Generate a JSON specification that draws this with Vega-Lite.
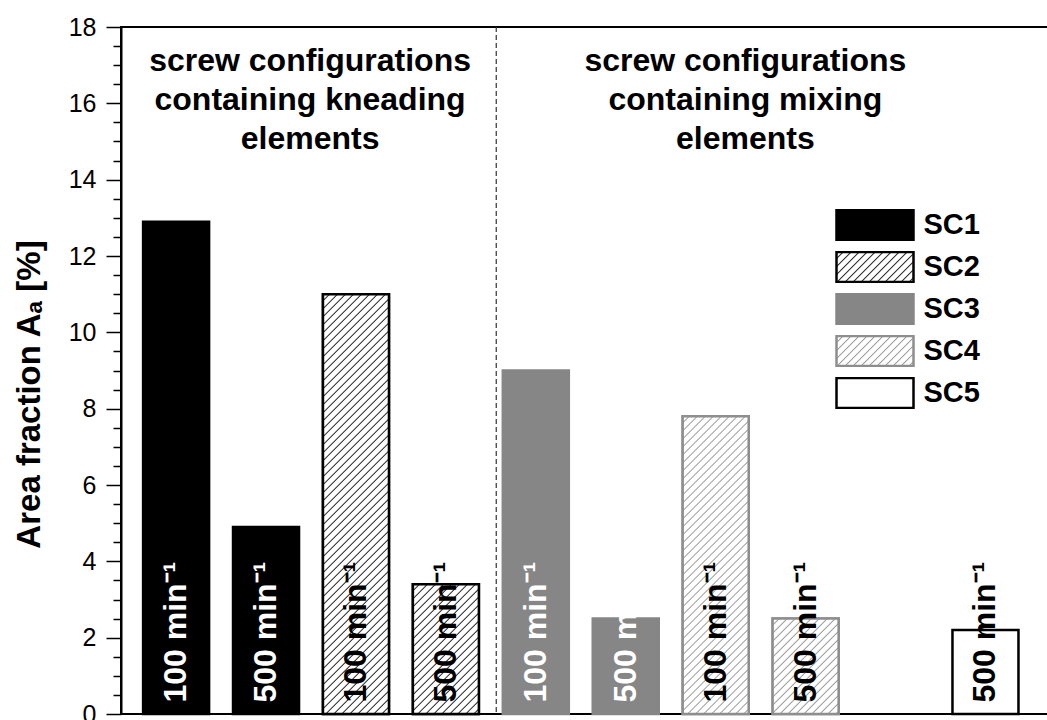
{
 "$schema": "https://vega.github.io/schema/vega-lite/v6.json",
 "width": 930,
 "height": 687,
 "autosize": {"type": "none"},
 "padding": {"left": 121, "top": 27, "right": 0, "bottom": 6},
 "background": "white",
 "config": {"font": "Liberation Sans", "view": {"stroke": "#000", "strokeWidth": 2}},
 "resolve": {"axis": {"y": "independent"}},
 "params": [
  {"name": "hatchA", "value": [
   {"offset":0,"color":"#fff"},
   {"offset":0.0066,"color":"#fff"},{"offset":0.0083,"color":"#222"},{"offset":0.01,"color":"#fff"},
   {"offset":0.0166,"color":"#fff"},{"offset":0.0183,"color":"#222"},{"offset":0.02,"color":"#fff"},
   {"offset":0.0266,"color":"#fff"},{"offset":0.0283,"color":"#222"},{"offset":0.03,"color":"#fff"},
   {"offset":0.0366,"color":"#fff"},{"offset":0.0383,"color":"#222"},{"offset":0.04,"color":"#fff"},
   {"offset":0.0466,"color":"#fff"},{"offset":0.0483,"color":"#222"},{"offset":0.05,"color":"#fff"},
   {"offset":0.0566,"color":"#fff"},{"offset":0.0583,"color":"#222"},{"offset":0.06,"color":"#fff"},
   {"offset":0.0666,"color":"#fff"},{"offset":0.0683,"color":"#222"},{"offset":0.07,"color":"#fff"},
   {"offset":0.0766,"color":"#fff"},{"offset":0.0783,"color":"#222"},{"offset":0.08,"color":"#fff"},
   {"offset":0.0866,"color":"#fff"},{"offset":0.0883,"color":"#222"},{"offset":0.09,"color":"#fff"},
   {"offset":0.0966,"color":"#fff"},{"offset":0.0983,"color":"#222"},{"offset":0.1,"color":"#fff"},
   {"offset":0.1066,"color":"#fff"},{"offset":0.1083,"color":"#222"},{"offset":0.11,"color":"#fff"},
   {"offset":0.1166,"color":"#fff"},{"offset":0.1183,"color":"#222"},{"offset":0.12,"color":"#fff"},
   {"offset":0.1266,"color":"#fff"},{"offset":0.1283,"color":"#222"},{"offset":0.13,"color":"#fff"},
   {"offset":0.1366,"color":"#fff"},{"offset":0.1383,"color":"#222"},{"offset":0.14,"color":"#fff"},
   {"offset":0.1466,"color":"#fff"},{"offset":0.1483,"color":"#222"},{"offset":0.15,"color":"#fff"},
   {"offset":0.1566,"color":"#fff"},{"offset":0.1583,"color":"#222"},{"offset":0.16,"color":"#fff"},
   {"offset":0.1666,"color":"#fff"},{"offset":0.1683,"color":"#222"},{"offset":0.17,"color":"#fff"},
   {"offset":0.1766,"color":"#fff"},{"offset":0.1783,"color":"#222"},{"offset":0.18,"color":"#fff"},
   {"offset":0.1866,"color":"#fff"},{"offset":0.1883,"color":"#222"},{"offset":0.19,"color":"#fff"},
   {"offset":0.1966,"color":"#fff"},{"offset":0.1983,"color":"#222"},{"offset":0.2,"color":"#fff"},
   {"offset":0.2066,"color":"#fff"},{"offset":0.2083,"color":"#222"},{"offset":0.21,"color":"#fff"},
   {"offset":0.2166,"color":"#fff"},{"offset":0.2183,"color":"#222"},{"offset":0.22,"color":"#fff"},
   {"offset":0.2266,"color":"#fff"},{"offset":0.2283,"color":"#222"},{"offset":0.23,"color":"#fff"},
   {"offset":0.2366,"color":"#fff"},{"offset":0.2383,"color":"#222"},{"offset":0.24,"color":"#fff"},
   {"offset":0.2466,"color":"#fff"},{"offset":0.2483,"color":"#222"},{"offset":0.25,"color":"#fff"},
   {"offset":0.2566,"color":"#fff"},{"offset":0.2583,"color":"#222"},{"offset":0.26,"color":"#fff"},
   {"offset":0.2666,"color":"#fff"},{"offset":0.2683,"color":"#222"},{"offset":0.27,"color":"#fff"},
   {"offset":0.2766,"color":"#fff"},{"offset":0.2783,"color":"#222"},{"offset":0.28,"color":"#fff"},
   {"offset":0.2866,"color":"#fff"},{"offset":0.2883,"color":"#222"},{"offset":0.29,"color":"#fff"},
   {"offset":0.2966,"color":"#fff"},{"offset":0.2983,"color":"#222"},{"offset":0.3,"color":"#fff"},
   {"offset":0.3066,"color":"#fff"},{"offset":0.3083,"color":"#222"},{"offset":0.31,"color":"#fff"},
   {"offset":0.3166,"color":"#fff"},{"offset":0.3183,"color":"#222"},{"offset":0.32,"color":"#fff"},
   {"offset":0.3266,"color":"#fff"},{"offset":0.3283,"color":"#222"},{"offset":0.33,"color":"#fff"},
   {"offset":0.3366,"color":"#fff"},{"offset":0.3383,"color":"#222"},{"offset":0.34,"color":"#fff"},
   {"offset":0.3466,"color":"#fff"},{"offset":0.3483,"color":"#222"},{"offset":0.35,"color":"#fff"},
   {"offset":0.3566,"color":"#fff"},{"offset":0.3583,"color":"#222"},{"offset":0.36,"color":"#fff"},
   {"offset":0.3666,"color":"#fff"},{"offset":0.3683,"color":"#222"},{"offset":0.37,"color":"#fff"},
   {"offset":0.3766,"color":"#fff"},{"offset":0.3783,"color":"#222"},{"offset":0.38,"color":"#fff"},
   {"offset":0.3866,"color":"#fff"},{"offset":0.3883,"color":"#222"},{"offset":0.39,"color":"#fff"},
   {"offset":0.3966,"color":"#fff"},{"offset":0.3983,"color":"#222"},{"offset":0.4,"color":"#fff"},
   {"offset":0.4066,"color":"#fff"},{"offset":0.4083,"color":"#222"},{"offset":0.41,"color":"#fff"},
   {"offset":0.4166,"color":"#fff"},{"offset":0.4183,"color":"#222"},{"offset":0.42,"color":"#fff"},
   {"offset":0.4266,"color":"#fff"},{"offset":0.4283,"color":"#222"},{"offset":0.43,"color":"#fff"},
   {"offset":0.4366,"color":"#fff"},{"offset":0.4383,"color":"#222"},{"offset":0.44,"color":"#fff"},
   {"offset":0.4466,"color":"#fff"},{"offset":0.4483,"color":"#222"},{"offset":0.45,"color":"#fff"},
   {"offset":0.4566,"color":"#fff"},{"offset":0.4583,"color":"#222"},{"offset":0.46,"color":"#fff"},
   {"offset":0.4666,"color":"#fff"},{"offset":0.4683,"color":"#222"},{"offset":0.47,"color":"#fff"},
   {"offset":0.4766,"color":"#fff"},{"offset":0.4783,"color":"#222"},{"offset":0.48,"color":"#fff"},
   {"offset":0.4866,"color":"#fff"},{"offset":0.4883,"color":"#222"},{"offset":0.49,"color":"#fff"},
   {"offset":0.4966,"color":"#fff"},{"offset":0.4983,"color":"#222"},{"offset":0.5,"color":"#fff"},
   {"offset":0.5066,"color":"#fff"},{"offset":0.5083,"color":"#222"},{"offset":0.51,"color":"#fff"},
   {"offset":0.5166,"color":"#fff"},{"offset":0.5183,"color":"#222"},{"offset":0.52,"color":"#fff"},
   {"offset":0.5266,"color":"#fff"},{"offset":0.5283,"color":"#222"},{"offset":0.53,"color":"#fff"},
   {"offset":0.5366,"color":"#fff"},{"offset":0.5383,"color":"#222"},{"offset":0.54,"color":"#fff"},
   {"offset":0.5466,"color":"#fff"},{"offset":0.5483,"color":"#222"},{"offset":0.55,"color":"#fff"},
   {"offset":0.5566,"color":"#fff"},{"offset":0.5583,"color":"#222"},{"offset":0.56,"color":"#fff"},
   {"offset":0.5666,"color":"#fff"},{"offset":0.5683,"color":"#222"},{"offset":0.57,"color":"#fff"},
   {"offset":0.5766,"color":"#fff"},{"offset":0.5783,"color":"#222"},{"offset":0.58,"color":"#fff"},
   {"offset":0.5866,"color":"#fff"},{"offset":0.5883,"color":"#222"},{"offset":0.59,"color":"#fff"},
   {"offset":0.5966,"color":"#fff"},{"offset":0.5983,"color":"#222"},{"offset":0.6,"color":"#fff"},
   {"offset":0.6066,"color":"#fff"},{"offset":0.6083,"color":"#222"},{"offset":0.61,"color":"#fff"}
  ]},
  {"name": "hatchB", "value": [
   {"offset":0,"color":"#fff"},
   {"offset":0.0066,"color":"#fff"},{"offset":0.0083,"color":"#999"},{"offset":0.01,"color":"#fff"},
   {"offset":0.0166,"color":"#fff"},{"offset":0.0183,"color":"#999"},{"offset":0.02,"color":"#fff"},
   {"offset":0.0266,"color":"#fff"},{"offset":0.0283,"color":"#999"},{"offset":0.03,"color":"#fff"},
   {"offset":0.0366,"color":"#fff"},{"offset":0.0383,"color":"#999"},{"offset":0.04,"color":"#fff"},
   {"offset":0.0466,"color":"#fff"},{"offset":0.0483,"color":"#999"},{"offset":0.05,"color":"#fff"},
   {"offset":0.0566,"color":"#fff"},{"offset":0.0583,"color":"#999"},{"offset":0.06,"color":"#fff"},
   {"offset":0.0666,"color":"#fff"},{"offset":0.0683,"color":"#999"},{"offset":0.07,"color":"#fff"},
   {"offset":0.0766,"color":"#fff"},{"offset":0.0783,"color":"#999"},{"offset":0.08,"color":"#fff"},
   {"offset":0.0866,"color":"#fff"},{"offset":0.0883,"color":"#999"},{"offset":0.09,"color":"#fff"},
   {"offset":0.0966,"color":"#fff"},{"offset":0.0983,"color":"#999"},{"offset":0.1,"color":"#fff"},
   {"offset":0.1066,"color":"#fff"},{"offset":0.1083,"color":"#999"},{"offset":0.11,"color":"#fff"},
   {"offset":0.1166,"color":"#fff"},{"offset":0.1183,"color":"#999"},{"offset":0.12,"color":"#fff"},
   {"offset":0.1266,"color":"#fff"},{"offset":0.1283,"color":"#999"},{"offset":0.13,"color":"#fff"},
   {"offset":0.1366,"color":"#fff"},{"offset":0.1383,"color":"#999"},{"offset":0.14,"color":"#fff"},
   {"offset":0.1466,"color":"#fff"},{"offset":0.1483,"color":"#999"},{"offset":0.15,"color":"#fff"},
   {"offset":0.1566,"color":"#fff"},{"offset":0.1583,"color":"#999"},{"offset":0.16,"color":"#fff"},
   {"offset":0.1666,"color":"#fff"},{"offset":0.1683,"color":"#999"},{"offset":0.17,"color":"#fff"},
   {"offset":0.1766,"color":"#fff"},{"offset":0.1783,"color":"#999"},{"offset":0.18,"color":"#fff"},
   {"offset":0.1866,"color":"#fff"},{"offset":0.1883,"color":"#999"},{"offset":0.19,"color":"#fff"},
   {"offset":0.1966,"color":"#fff"},{"offset":0.1983,"color":"#999"},{"offset":0.2,"color":"#fff"},
   {"offset":0.2066,"color":"#fff"},{"offset":0.2083,"color":"#999"},{"offset":0.21,"color":"#fff"},
   {"offset":0.2166,"color":"#fff"},{"offset":0.2183,"color":"#999"},{"offset":0.22,"color":"#fff"},
   {"offset":0.2266,"color":"#fff"},{"offset":0.2283,"color":"#999"},{"offset":0.23,"color":"#fff"},
   {"offset":0.2366,"color":"#fff"},{"offset":0.2383,"color":"#999"},{"offset":0.24,"color":"#fff"},
   {"offset":0.2466,"color":"#fff"},{"offset":0.2483,"color":"#999"},{"offset":0.25,"color":"#fff"},
   {"offset":0.2566,"color":"#fff"},{"offset":0.2583,"color":"#999"},{"offset":0.26,"color":"#fff"},
   {"offset":0.2666,"color":"#fff"},{"offset":0.2683,"color":"#999"},{"offset":0.27,"color":"#fff"},
   {"offset":0.2766,"color":"#fff"},{"offset":0.2783,"color":"#999"},{"offset":0.28,"color":"#fff"},
   {"offset":0.2866,"color":"#fff"},{"offset":0.2883,"color":"#999"},{"offset":0.29,"color":"#fff"},
   {"offset":0.2966,"color":"#fff"},{"offset":0.2983,"color":"#999"},{"offset":0.3,"color":"#fff"},
   {"offset":0.3066,"color":"#fff"},{"offset":0.3083,"color":"#999"},{"offset":0.31,"color":"#fff"},
   {"offset":0.3166,"color":"#fff"},{"offset":0.3183,"color":"#999"},{"offset":0.32,"color":"#fff"},
   {"offset":0.3266,"color":"#fff"},{"offset":0.3283,"color":"#999"},{"offset":0.33,"color":"#fff"},
   {"offset":0.3366,"color":"#fff"},{"offset":0.3383,"color":"#999"},{"offset":0.34,"color":"#fff"},
   {"offset":0.3466,"color":"#fff"},{"offset":0.3483,"color":"#999"},{"offset":0.35,"color":"#fff"},
   {"offset":0.3566,"color":"#fff"},{"offset":0.3583,"color":"#999"},{"offset":0.36,"color":"#fff"},
   {"offset":0.3666,"color":"#fff"},{"offset":0.3683,"color":"#999"},{"offset":0.37,"color":"#fff"},
   {"offset":0.3766,"color":"#fff"},{"offset":0.3783,"color":"#999"},{"offset":0.38,"color":"#fff"},
   {"offset":0.3866,"color":"#fff"},{"offset":0.3883,"color":"#999"},{"offset":0.39,"color":"#fff"},
   {"offset":0.3966,"color":"#fff"},{"offset":0.3983,"color":"#999"},{"offset":0.4,"color":"#fff"},
   {"offset":0.4066,"color":"#fff"},{"offset":0.4083,"color":"#999"},{"offset":0.41,"color":"#fff"},
   {"offset":0.4166,"color":"#fff"},{"offset":0.4183,"color":"#999"},{"offset":0.42,"color":"#fff"},
   {"offset":0.4266,"color":"#fff"},{"offset":0.4283,"color":"#999"},{"offset":0.43,"color":"#fff"},
   {"offset":0.4366,"color":"#fff"},{"offset":0.4383,"color":"#999"},{"offset":0.44,"color":"#fff"},
   {"offset":0.4466,"color":"#fff"},{"offset":0.4483,"color":"#999"},{"offset":0.45,"color":"#fff"},
   {"offset":0.4566,"color":"#fff"},{"offset":0.4583,"color":"#999"},{"offset":0.46,"color":"#fff"}
  ]}
 ],
 "data": {"values": [
  {"series": "SC1", "speed": "100 min⁻¹", "pos": 1, "value": 12.9},
  {"series": "SC1", "speed": "500 min⁻¹", "pos": 2, "value": 4.9},
  {"series": "SC2", "speed": "100 min⁻¹", "pos": 3, "value": 11.0},
  {"series": "SC2", "speed": "500 min⁻¹", "pos": 4, "value": 3.4},
  {"series": "SC3", "speed": "100 min⁻¹", "pos": 5, "value": 9.0},
  {"series": "SC3", "speed": "500 min⁻¹", "pos": 6, "value": 2.5},
  {"series": "SC4", "speed": "100 min⁻¹", "pos": 7, "value": 7.8},
  {"series": "SC4", "speed": "500 min⁻¹", "pos": 8, "value": 2.5},
  {"series": "SC5", "speed": "500 min⁻¹", "pos": 10, "value": 2.2}
 ]},
 "layer": [
  {
   "data": {"values": [{}]},
   "mark": {"type": "rule", "strokeDash": [5, 3], "color": "#333", "strokeWidth": 1.2},
   "encoding": {"x": {"datum": 4.56, "type": "quantitative", "scale": {"domain": [0.443, 10.673], "nice": false, "zero": false}, "axis": null}}
  },
  {
   "mark": {"type": "bar", "width": 66, "strokeWidth": 2.5},
   "encoding": {
    "x": {"field": "pos", "type": "quantitative", "axis": null},
    "y": {"field": "value", "type": "quantitative",
     "scale": {"domain": [0, 18], "nice": false, "zero": true},
     "axis": {
      "orient": "left",
      "values": [0,2,4,6,8,10,12,14,16,18],
      "tickSize": 15,
      "tickColor": "#000", "tickWidth": 1.5,
      "domainColor": "#000", "domainWidth": 2,
      "labelFont": "Liberation Sans", "labelFontSize": 25, "labelColor": "#000", "labelPadding": 10,
      "labelOverlap": false, "labelFlush": false, "grid": false,
      "title": "Area fraction Aₐ [%]",
      "titleFont": "Liberation Sans", "titleFontSize": 33, "titleFontWeight": "bold", "titleColor": "#000",
      "titleX": -82, "titleY": 367, "titleAngle": 270, "titleAlign": "center", "titleBaseline": "alphabetic"
     }
    },
    "fill": {"field": "series", "type": "nominal",
     "scale": {"domain": ["SC1", "SC2", "SC3", "SC4", "SC5"],
      "range": ["#000",
       {"expr": "{gradient:'linear',x1:0,y1:0,x2:9.018,y2:3.517,stops:hatchA}"},
       "#868686",
       {"expr": "{gradient:'linear',x1:0,y1:0,x2:9.018,y2:3.517,stops:hatchB}"},
       "#fff"]},
     "legend": {"title": null, "orient": "none", "legendX": 714, "legendY": 182,
      "symbolType": "M-1,-0.39H1V0.39H-1Z", "symbolSize": 5929, "symbolStrokeWidth": 2.5, "symbolOpacity": 1,
      "labelFont": "Liberation Sans", "labelFontSize": 29, "labelFontWeight": "bold", "labelColor": "#000",
      "labelOffset": 8.5, "rowPadding": 10, "clipHeight": 32, "padding": 0}
    },
    "stroke": {"field": "series", "type": "nominal",
     "scale": {"domain": ["SC1", "SC2", "SC3", "SC4", "SC5"], "range": ["#000", "#000", "#868686", "#8e8e8e", "#000"]},
     "legend": {"title": null, "orient": "none", "legendX": 714, "legendY": 182,
      "symbolType": "M-1,-0.39H1V0.39H-1Z", "symbolSize": 5929, "symbolStrokeWidth": 2.5, "symbolOpacity": 1,
      "labelFont": "Liberation Sans", "labelFontSize": 29, "labelFontWeight": "bold", "labelColor": "#000",
      "labelOffset": 8.5, "rowPadding": 10, "clipHeight": 32, "padding": 0}
    }
   }
  },
  {
   "transform": [{"filter": "datum.pos === 3"}],
   "mark": {"type": "bar", "width": 66, "strokeWidth": 2.5, "stroke": "#000",
    "fill": {"expr": "{gradient:'linear',x1:0,y1:0,x2:0.29234,y2:1.85958,stops:hatchA}"}},
   "encoding": {"x": {"field": "pos", "type": "quantitative", "axis": null}, "y": {"field": "value", "type": "quantitative", "axis": null}}
  },
  {
   "transform": [{"filter": "datum.pos === 4"}],
   "mark": {"type": "bar", "width": 66, "strokeWidth": 2.5, "stroke": "#000",
    "fill": {"expr": "{gradient:'linear',x1:0,y1:0,x2:2.4910,y2:4.8979,stops:hatchA}"}},
   "encoding": {"x": {"field": "pos", "type": "quantitative", "axis": null}, "y": {"field": "value", "type": "quantitative", "axis": null}}
  },
  {
   "transform": [{"filter": "datum.pos === 7"}],
   "mark": {"type": "bar", "width": 66, "strokeWidth": 2.5, "stroke": "#8e8e8e",
    "fill": {"expr": "{gradient:'linear',x1:0,y1:0,x2:0.56786,y2:2.5614,stops:hatchB}"}},
   "encoding": {"x": {"field": "pos", "type": "quantitative", "axis": null}, "y": {"field": "value", "type": "quantitative", "axis": null}}
  },
  {
   "transform": [{"filter": "datum.pos === 8"}],
   "mark": {"type": "bar", "width": 66, "strokeWidth": 2.5, "stroke": "#8e8e8e",
    "fill": {"expr": "{gradient:'linear',x1:0,y1:0,x2:3.9226,y2:5.6711,stops:hatchB}"}},
   "encoding": {"x": {"field": "pos", "type": "quantitative", "axis": null}, "y": {"field": "value", "type": "quantitative", "axis": null}}
  },
  {
   "mark": {"type": "text", "angle": 270, "align": "left", "baseline": "middle", "font": "Liberation Sans", "fontSize": 32, "fontWeight": "bold"},
   "encoding": {
    "x": {"field": "pos", "type": "quantitative", "axis": null},
    "y": {"datum": 0.3, "type": "quantitative",
     "axis": {
      "orient": "left",
      "values": [0.5,1,1.5,2.5,3,3.5,4.5,5,5.5,6.5,7,7.5,8.5,9,9.5,10.5,11,11.5,12.5,13,13.5,14.5,15,15.5,16.5,17,17.5],
      "tickSize": 8, "tickColor": "#000", "tickWidth": 1.5,
      "labels": false, "domain": false, "grid": false, "title": null
     }
    },
    "text": {"field": "speed"},
    "fill": {"condition": {"test": "datum.series === 'SC1' || datum.series === 'SC3'", "value": "#fff"}, "value": "#000"}
   }
  },
  {
   "data": {"values": [{}]},
   "mark": {"type": "text", "text": ["screw configurations", "containing kneading", "elements"], "font": "Liberation Sans", "fontWeight": "bold", "fontSize": 32, "align": "center", "baseline": "top", "lineHeight": 39, "color": "#000"},
   "encoding": {"x": {"datum": 2.49, "type": "quantitative", "axis": null}, "y": {"datum": 17.5, "type": "quantitative", "axis": null}}
  },
  {
   "data": {"values": [{}]},
   "mark": {"type": "text", "text": ["screw configurations", "containing mixing", "elements"], "font": "Liberation Sans", "fontWeight": "bold", "fontSize": 32, "align": "center", "baseline": "top", "lineHeight": 39, "color": "#000"},
   "encoding": {"x": {"datum": 7.33, "type": "quantitative", "axis": null}, "y": {"datum": 17.5, "type": "quantitative", "axis": null}}
  }
 ]
}
